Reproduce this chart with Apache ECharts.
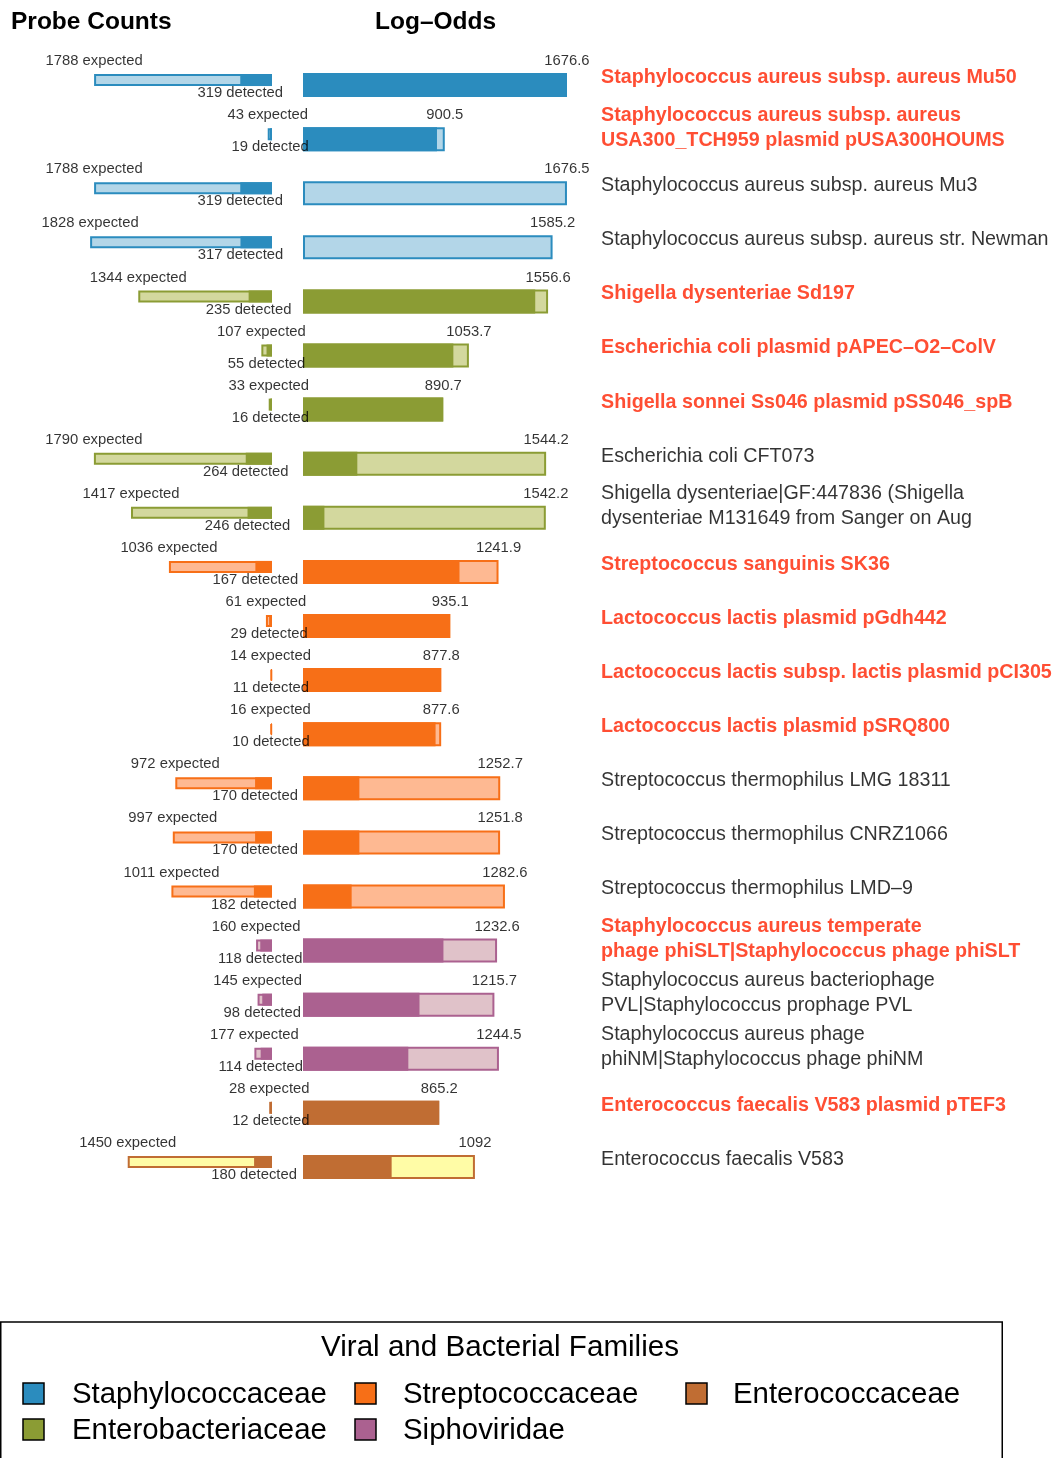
<!DOCTYPE html>
<html lang="en">
<head>
<meta charset="UTF-8">
<title>Probe Counts / Log-Odds</title>
<script src="https://cdn.jsdelivr.net/npm/echarts@6/dist/echarts.min.js"></script>
<style>
  html, body { margin: 0; padding: 0; background: #fff; }
  #main { width: 1053px; height: 1458px; }
</style>
</head>
<body>
<div id="main"></div>
<script>
// one entry per row, top to bottom
var names = [
  'Staphylococcus aureus subsp. aureus Mu50',
  'Staphylococcus aureus subsp. aureus\nUSA300_TCH959 plasmid pUSA300HOUMS',
  'Staphylococcus aureus subsp. aureus Mu3',
  'Staphylococcus aureus subsp. aureus str. Newman',
  'Shigella dysenteriae Sd197',
  'Escherichia coli plasmid pAPEC\u2013O2\u2013ColV',
  'Shigella sonnei Ss046 plasmid pSS046_spB',
  'Escherichia coli CFT073',
  'Shigella dysenteriae|GF:447836 (Shigella\ndysenteriae M131649 from Sanger on Aug',
  'Streptococcus sanguinis SK36',
  'Lactococcus lactis plasmid pGdh442',
  'Lactococcus lactis subsp. lactis plasmid pCI305',
  'Lactococcus lactis plasmid pSRQ800',
  'Streptococcus thermophilus LMG 18311',
  'Streptococcus thermophilus CNRZ1066',
  'Streptococcus thermophilus LMD\u20139',
  'Staphylococcus aureus temperate\nphage phiSLT|Staphylococcus phage phiSLT',
  'Staphylococcus aureus bacteriophage\nPVL|Staphylococcus prophage PVL',
  'Staphylococcus aureus phage\nphiNM|Staphylococcus phage phiNM',
  'Enterococcus faecalis V583 plasmid pTEF3',
  'Enterococcus faecalis V583'
];
var highlighted = [1,1,0,0,1,1,1,0,0,1,1,1,1,0,0,0,1,0,0,1,0];
var familyOf    = [0,0,0,0,1,1,1,1,1,2,2,2,2,2,2,2,3,3,3,4,4];

var expected = [1788, 43, 1788, 1828, 1344, 107, 33, 1790, 1417, 1036, 61, 14, 16, 972, 997, 1011, 160, 145, 177, 28, 1450];
var detected = [319, 19, 319, 317, 235, 55, 16, 264, 246, 167, 29, 11, 10, 170, 170, 182, 118, 98, 114, 12, 180];

var logOdds = [1676.6, 900.5, 1676.5, 1585.2, 1556.6, 1053.7, 890.7, 1544.2, 1542.2, 1241.9, 935.1, 877.8, 877.6, 1252.7, 1251.8, 1282.6, 1232.6, 1215.7, 1244.5, 865.2, 1092];
var logOddsText = ['1676.6', '900.5', '1676.5', '1585.2', '1556.6', '1053.7', '890.7', '1544.2', '1542.2', '1241.9', '935.1', '877.8', '877.6', '1252.7', '1251.8', '1282.6', '1232.6', '1215.7', '1244.5', '865.2', '1092'];
// dark part of each log-odds bar
var logOddsDark = [1676.6, 851, 0, 0, 1475, 955, 890.7, 345, 136, 994, 935.1, 877.8, 842, 358, 358, 309, 892, 740, 669, 865.2, 563];

var families = ['Staphylococcaceae', 'Enterobacteriaceae', 'Streptococcaceae', 'Siphoviridae', 'Enterococcaceae'];
var darkCol  = ['#2b8cbe', '#8b9c34', '#f76f17', '#ab6190', '#c06d33'];
var lightCol = ['#b3d6e8', '#d3d89e', '#feb992', '#e0c2c9', '#fffca6'];

var rows = names.map(function (n, i) { return i; });
var FONT = 'Liberation Sans, Arial, Helvetica, sans-serif';

var chart = echarts.init(document.getElementById('main'));

function lightBars(vals) {
  return vals.map(function (v, i) {
    var f = familyOf[i];
    return { value: v, itemStyle: { color: lightCol[f], borderColor: darkCol[f], borderWidth: 2 } };
  });
}
function darkBars(vals) {
  return vals.map(function (v, i) {
    return { value: v, itemStyle: { color: darkCol[familyOf[i]] } };
  });
}
function labelPoints(xs, text, dy, axis) {
  return {
    type: 'scatter', xAxisIndex: axis, yAxisIndex: axis, symbolSize: 0, silent: true, z: 5,
    data: xs.map(function (x, i) { return [x, i]; }),
    label: {
      show: true, position: 'inside', offset: [0, dy], color: '#000',
      fontFamily: FONT, fontSize: 14.8,
      formatter: function (p) { return text(p.dataIndex); }
    }
  };
}

// legend drawn as plain graphics in a box
var legendItems = [];
var legendPos = [[23, 1383, 72], [23, 1419, 72], [355, 1383, 403], [355, 1419, 403], [686, 1383, 733]];
var legendOrder = [0, 1, 2, 3, 4];
legendOrder.forEach(function (f, k) {
  var p = legendPos[k];
  legendItems.push({ type: 'rect', shape: { x: p[0], y: p[1], width: 21, height: 21 },
    style: { fill: darkCol[f], stroke: '#000', lineWidth: 1.5 } });
  legendItems.push({ type: 'text', x: p[2], y: p[1] + 12,
    style: { text: families[f], fill: '#000', font: '29.4px ' + FONT, textVerticalAlign: 'middle' } });
});

chart.setOption({
  animation: false,
  title: [
    { text: 'Probe Counts', left: 11, top: 10, padding: 0,
      textStyle: { fontFamily: FONT, fontSize: 24.5, fontWeight: 'bold', color: '#000' } },
    { text: 'Log\u2013Odds', left: 375, top: 10, padding: 0,
      textStyle: { fontFamily: FONT, fontSize: 24.5, fontWeight: 'bold', color: '#000' } }
  ],
  grid: [
    { left: 73, top: 53, width: 199, height: 1136 },
    { left: 303, top: 58, width: 283.4, height: 1136 }
  ],
  xAxis: [
    { gridIndex: 0, type: 'value', min: 0, max: 2000, inverse: true, show: false },
    { gridIndex: 1, type: 'value', min: 0, max: 1800, show: false }
  ],
  yAxis: [
    { gridIndex: 0, type: 'category', data: rows, inverse: true, show: false },
    { gridIndex: 1, type: 'category', data: rows, inverse: true, show: false }
  ],
  series: [
    { type: 'bar', name: 'expected', xAxisIndex: 0, yAxisIndex: 0, barWidth: 12, silent: true,
      data: lightBars(expected) },
    { type: 'bar', name: 'detected', xAxisIndex: 0, yAxisIndex: 0, barWidth: 12, barGap: '-100%', silent: true,
      data: darkBars(detected) },
    { type: 'bar', name: 'log-odds', xAxisIndex: 1, yAxisIndex: 1, barWidth: 24, silent: true,
      data: lightBars(logOdds) },
    { type: 'bar', name: 'log-odds dark', xAxisIndex: 1, yAxisIndex: 1, barWidth: 24, barGap: '-100%', silent: true,
      data: darkBars(logOddsDark) },
    labelPoints(expected, function (i) { return expected[i] + ' expected'; }, -19, 0),
    labelPoints(detected, function (i) { return detected[i] + ' detected'; }, 13, 0),
    labelPoints(logOdds, function (i) { return logOddsText[i]; }, -24, 1),
    {
      type: 'scatter', xAxisIndex: 1, yAxisIndex: 1, symbolSize: 0, silent: true, z: 5,
      data: names.map(function (n, i) {
        var twoLines = n.indexOf('\n') >= 0;
        return {
          name: n, value: [1800, i],
          label: {
            color: highlighted[i] ? '#ff2200' : '#000',
            fontWeight: highlighted[i] ? 'bold' : 'normal',
            offset: [0, twoLines ? -11.5 : -7.5]
          }
        };
      }),
      label: { show: true, position: 'right', distance: 14.6, formatter: '{b}', align: 'left',
        fontFamily: FONT, fontSize: 19.7, lineHeight: 25 }
    }
  ],
  graphic: [
    { type: 'rect', shape: { x: 0.75, y: 1322, width: 1001.5, height: 160 },
      style: { fill: 'none', stroke: '#000', lineWidth: 1.5 } },
    { type: 'text', x: 500, y: 1348,
      style: { text: 'Viral and Bacterial Families', fill: '#000', font: '29.6px ' + FONT,
        textAlign: 'center', textVerticalAlign: 'middle' } }
  ].concat(legendItems)
});
</script>
</body>
</html>
